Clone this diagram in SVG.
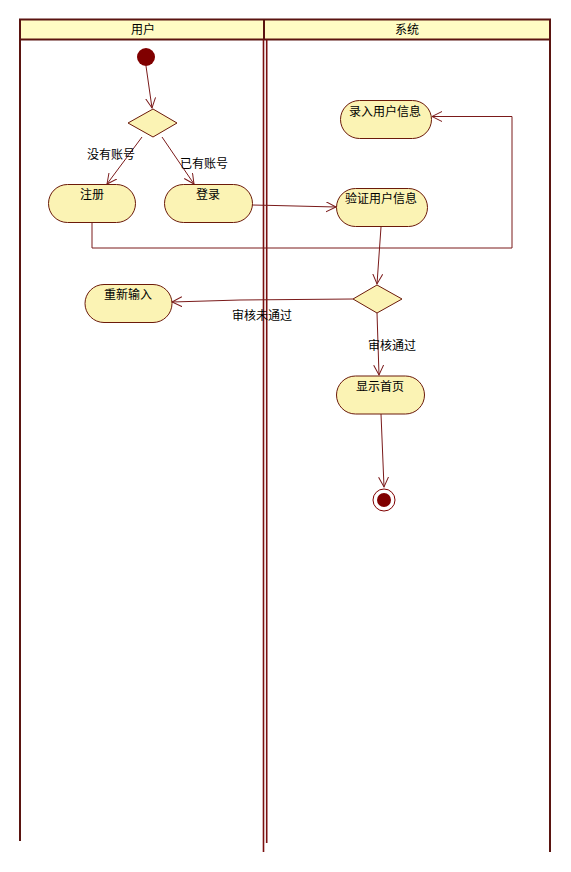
<svg xmlns="http://www.w3.org/2000/svg" width="571" height="872" viewBox="0 0 571 872">
<style>
.lane{stroke:#5a1410;stroke-width:2;fill:none}
.lline{stroke:#7a1010;stroke-width:1.6;fill:none}
.hdr{fill:#FFFCC4;stroke:#5a1410;stroke-width:2}
.node{fill:#FBF3B4;stroke:#6b1a0a;stroke-width:1}
.edge{stroke:#7a1a1a;stroke-width:1;fill:none}
text{font-family:"Liberation Sans","Noto Sans CJK SC",sans-serif;font-size:12px;fill:#000}
.c{text-anchor:middle}
</style>
<defs>
<marker id="arr" markerWidth="12" markerHeight="12" refX="10" refY="5" orient="auto" markerUnits="userSpaceOnUse">
<path d="M0,0 L10,5 L0,10" fill="none" stroke="#7a1a1a" stroke-width="1"/>
</marker>
</defs>
<rect width="571" height="872" fill="#ffffff"/>
<g id="swimlanes">
<rect class="hdr" x="20" y="19.5" width="530" height="20"/>
<line class="lane" x1="264" y1="19.5" x2="264" y2="39.5"/>
<line class="lane" x1="20" y1="39.5" x2="20" y2="841"/>
<line class="lline" x1="263.5" y1="39.5" x2="263.5" y2="852"/>
<line class="lline" x1="266.7" y1="39.5" x2="266.7" y2="843"/>
<line class="lane" x1="550" y1="39.5" x2="550" y2="852"/>
<text class="c" x="143" y="34">用户</text>
<text class="c" x="407" y="34">系统</text>
</g>
<g id="connectors">
<line class="edge" x1="146" y1="66" x2="152" y2="108" marker-end="url(#arr)"/>
<line class="edge" x1="142" y1="137" x2="107" y2="184" marker-end="url(#arr)"/>
<line class="edge" x1="162" y1="137" x2="194" y2="184" marker-end="url(#arr)"/>
<polyline class="edge" points="252,205 275,205.5 336,207" marker-end="url(#arr)"/>
<polyline class="edge" points="92,222 92,248 512,248 512,116.5 432,116.5" marker-end="url(#arr)"/>
<line class="edge" x1="381" y1="227" x2="377" y2="284" marker-end="url(#arr)"/>
<polyline class="edge" points="353,299 240,300 172,302" marker-end="url(#arr)"/>
<line class="edge" x1="377" y1="313" x2="379" y2="375" marker-end="url(#arr)"/>
<line class="edge" x1="381" y1="414" x2="384" y2="487" marker-end="url(#arr)"/>
<text x="87" y="159">没有账号</text>
<text x="180" y="168">已有账号</text>
<text x="232" y="320">审核未通过</text>
<text x="368" y="350">审核通过</text>
</g>
<g id="start"><circle cx="146" cy="57" r="9" fill="#800000"/></g>
<g id="decision1"><polygon class="node" points="128,123 153,109 177,123 153,137"/></g>
<g id="register"><rect class="node" x="48.5" y="184.5" width="87" height="38" rx="19"/><text class="c" x="92" y="199">注册</text></g>
<g id="login"><rect class="node" x="164.5" y="184.5" width="88" height="38" rx="19"/><text class="c" x="208" y="199">登录</text></g>
<g id="input"><rect class="node" x="340.5" y="100.5" width="91" height="38" rx="19"/><text class="c" x="385" y="116">录入用户信息</text></g>
<g id="verify"><rect class="node" x="336.5" y="188.5" width="91" height="38" rx="19"/><text class="c" x="381" y="203">验证用户信息</text></g>
<g id="decision2"><polygon class="node" points="353,299 377,285 402,299 377,313"/></g>
<g id="reinput"><rect class="node" x="85" y="284.5" width="87" height="38" rx="19"/><text class="c" x="128" y="299">重新输入</text></g>
<g id="home"><rect class="node" x="336.5" y="376" width="88" height="38" rx="19"/><text class="c" x="380" y="391">显示首页</text></g>
<g id="end"><circle cx="384" cy="500" r="11" fill="#ffffff" stroke="#800000" stroke-width="1"/><circle cx="384" cy="500" r="7" fill="#800000"/></g>
</svg>
